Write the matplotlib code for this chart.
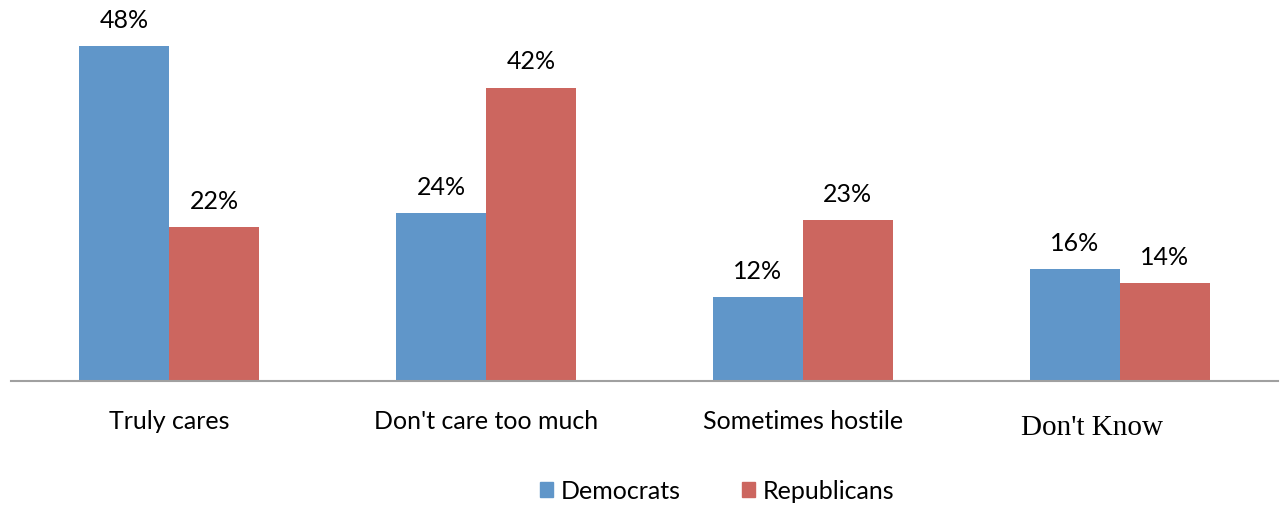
import numpy as np
import matplotlib.pyplot as plt
from matplotlib.patches import Patch

categories = ["Truly cares", "Don't care too much", "Sometimes hostile", "Don't Know"]
democrats = [48, 24, 12, 16]
republicans = [22, 42, 23, 14]

blue = '#6096c9'
red = '#cc665f'

fig = plt.figure(figsize=(12.8, 5.1), dpi=100)
ax = fig.add_axes([11 / 1280, 1 - 382 / 510, 1267 / 1280, 382 / 510])

x = np.arange(len(categories))
w = 0.284
ax.bar(x - w / 2, democrats, w, color=blue)
ax.bar(x + w / 2, republicans, w, color=red)

for xi, d, r in zip(x, democrats, republicans):
    ax.text(xi - w / 2, d + 2.2, f'{d}%', ha='center', va='bottom', fontsize=18, family='Lato')
    ax.text(xi + w / 2, r + 2.2, f'{r}%', ha='center', va='bottom', fontsize=18, family='Lato')

ax.set_xlim(-0.5, 3.5)
ax.set_ylim(0, 382 / 6.98)
for s in ['top', 'right', 'left']:
    ax.spines[s].set_visible(False)
ax.spines['bottom'].set_color('#a0a0a0')
ax.spines['bottom'].set_linewidth(1.5)
ax.set_yticks([])
ax.set_xticks(x)
ax.set_xticklabels(categories[:3] + [''], fontsize=18, family='Lato')
ax.tick_params(axis='x', length=0, pad=20)
# last label is set in a serif face and sits a little left of its group
ax.annotate(categories[3], xy=(x[3], 0), xycoords=('data', 'axes fraction'),
            xytext=(-20, -33), textcoords='offset points', ha='center', va='center',
            fontsize=21, family='Liberation Serif')

handles = [Patch(color=blue, label='Democrats'), Patch(color=red, label='Republicans')]
fig.legend(handles=handles, loc='center', bbox_to_anchor=(717 / 1280, 1 - 492 / 510), ncol=2,
           frameon=False, prop={'family': 'Lato', 'size': 18}, handlelength=0.52, handleheight=0.52,
           handletextpad=0.3, columnspacing=2.45)

fig.savefig('out.png', dpi=100)
